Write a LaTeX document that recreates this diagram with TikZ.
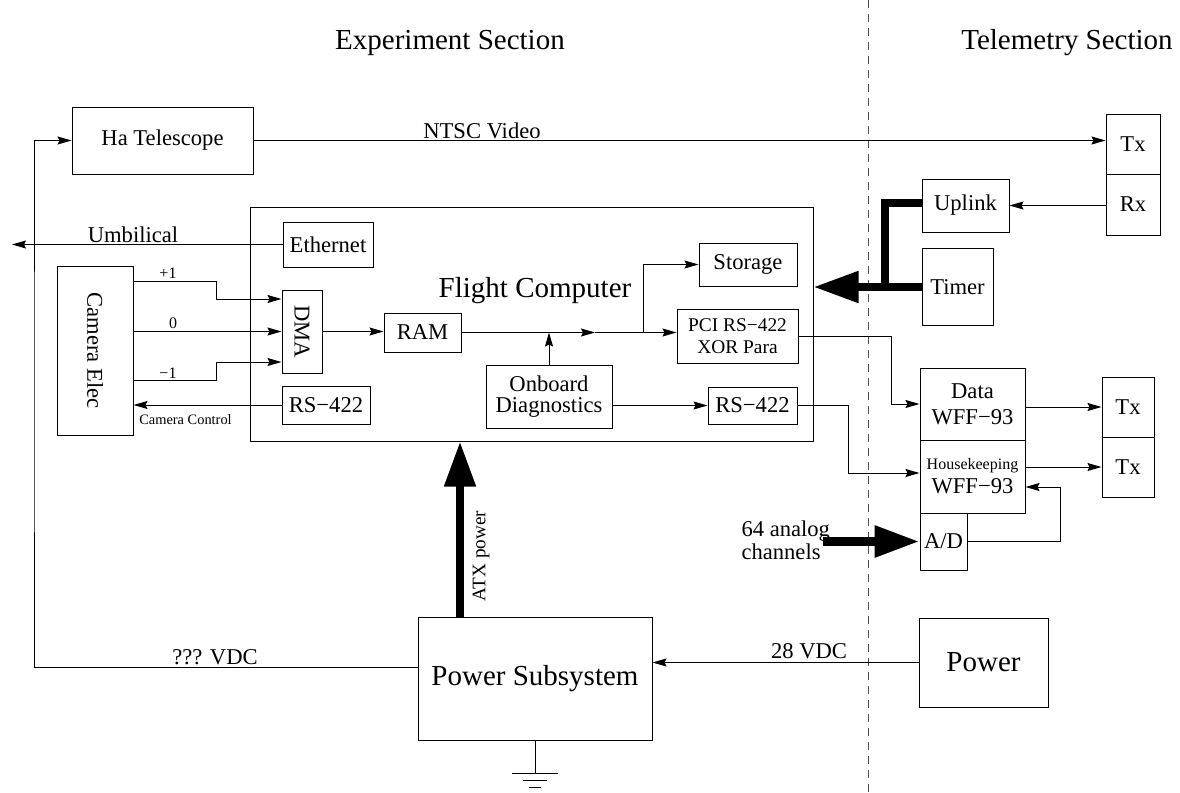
\documentclass[tikz,border=0pt]{standalone}
\usepackage{fontspec}
\setmainfont{Liberation Serif}
\usetikzlibrary{arrows.meta}

\tikzset{
  blk/.style={draw, inner sep=0pt, font=\fontsize{11.3}{12}\selectfont},
  lbl/.style={inner sep=0pt, font=\fontsize{11.3}{12}\selectfont},
  big/.style={inner sep=0pt, font=\fontsize{14.5}{16}\selectfont},
  sml/.style={inner sep=0pt, font=\fontsize{8}{9}\selectfont},
  arr/.style={-{Stealth[length=7pt,width=4pt,inset=1pt]}},
  fat/.style={line width=4pt},
  fatarr/.style={line width=4pt, -{Triangle[length=22.5pt,width=15pt]}},
}

\begin{document}
\begin{tikzpicture}[x=0.5pt, y=-0.5pt, line width=0.5pt]
  \useasboundingbox (0,0) rectangle (1180,793);

  \node[big] (exps) at (450,43) {Experiment Section};
  \node[big] (tels) at (1067,43) {Telemetry Section};
  \draw[dashed, dash pattern=on 4pt off 3pt, black!70] (868,0) -- (868,793);

  % experiment side
  \node[blk, minimum width=90.5pt, minimum height=33.5pt] (tel) at (162.5,140.5) {Ha Telescope};
  \node[blk, minimum width=281.5pt, minimum height=117pt] (fc) at (531.5,324) {};
  \node[big] (fcl) at (535,291) {Flight Computer};
  \node[blk, minimum width=45pt, minimum height=22.5pt] (eth) at (328,244.5) {Ethernet};
  \node[blk, rotate=-90, minimum width=84.5pt, minimum height=38pt] (cam) at (95,350.5) {Camera Elec};
  \node[blk, rotate=-90, minimum width=41.5pt, minimum height=20pt] (dma) at (302,331.5) {DMA};
  \node[blk, minimum width=38.5pt, minimum height=19.5pt] (ram) at (422.5,332.5) {RAM};
  \node[blk, minimum width=44pt, minimum height=19pt] (rsa) at (326,405) {RS−422};
  \node[blk, minimum width=49pt, minimum height=21.5pt] (stor) at (748,264.5) {Storage};
  \node[blk, align=center, font=\fontsize{9.7}{11}\selectfont, minimum width=60.5pt, minimum height=27pt] (pci) at (737.5,336) {PCI RS−422\\XOR Para};
  \node[blk, align=center, font=\fontsize{11.3}{10.5}\selectfont, minimum width=63pt, minimum height=31.5pt] (diag) at (549,396.5) {Onboard\\Diagnostics};
  \node[blk, minimum width=44.5pt, minimum height=18.5pt] (rsb) at (752.5,405.5) {RS−422};
  \node[blk, minimum width=117pt, minimum height=61.5pt, font=\fontsize{14.5}{16}\selectfont] (pss) at (535,678.5) {Power Subsystem};

  % telemetry side
  \node[blk, minimum width=27pt, minimum height=30pt] (txa) at (1133,144) {Tx};
  \node[blk, minimum width=27pt, minimum height=30.5pt] (rx) at (1133,204.5) {Rx};
  \node[blk, minimum width=43.5pt, minimum height=26.5pt] (upl) at (965.5,205.5) {Uplink};
  \node[blk, minimum width=35.5pt, minimum height=38.5pt] (tim) at (957.5,287) {Timer};
  \node[blk, align=center, font=\fontsize{11.3}{13}\selectfont, minimum width=52.5pt, minimum height=36pt] (dat) at (972.5,404) {Data\\WFF−93};
  \node[blk, align=center, font=\fontsize{11.3}{12}\selectfont, minimum width=52.5pt, minimum height=36.5pt] (hk) at (972.5,476.5) {{\fontsize{8}{9}\selectfont Housekeeping}\\WFF−93};
  \node[blk, minimum width=23.5pt, minimum height=28.5pt] (ad) at (943.5,541.5) {A/D};
  \node[blk, minimum width=26pt, minimum height=30pt] (txb) at (1128,407) {Tx};
  \node[blk, minimum width=26pt, minimum height=30pt] (txc) at (1128,467) {Tx};
  \node[blk, minimum width=64.5pt, minimum height=44.5pt, font=\fontsize{14.5}{16}\selectfont] (pwr) at (983.5,662.5) {Power};

  \coordinate (lft) at (34,400);
  \coordinate (umb) at (12,244.5);
  \coordinate (mid) at (595,332.5);
  \coordinate (br) at (643,332.5);
  \coordinate (jn) at (885,287);
  \coordinate (atx) at (460,0);
  \coordinate (an) at (823,541.5);

  % connectors
  \draw[arr] ([yshift=5.75pt]pss.west) -| (lft) |- (tel.west);
  \node[lbl] (vdc) at (215,657) {??? VDC};
  \draw[arr] (tel.east) -- (tel.east -| txa.west);
  \node[lbl] (ntsc) at (482,131) {NTSC Video};
  \draw[arr] (eth.west) -- (umb);
  \node[lbl] (umbl) at (133,235) {Umbilical};

  \draw[arr] ([yshift=34.75pt]cam.north) -- ++(83,0) |- ([yshift=16.25pt]dma.south);
  \draw[arr] (cam.north |- dma.south) -- (dma.south);
  \draw[arr] ([yshift=-14.75pt]cam.north) -- ++(83,0) |- ([yshift=-15.25pt]dma.south);
  \node[sml] (lp) at (168,273) {+1};
  \node[sml] (lz) at (173,323) {0};
  \node[sml] (lm) at (168,373) {−1};
  \draw[arr] (rsa.west) -- (rsa.west -| cam.north);
  \node[inner sep=0pt, font=\fontsize{7.2}{8}\selectfont] (ccl) at (185.5,420) {Camera Control};

  \draw[arr] (dma.north) -- (dma.north -| ram.west);
  \draw[arr] (ram.east) -- (mid);
  \draw[arr] (mid) -- (mid -| pci.west);
  \draw[arr] (br) |- (stor.west);
  \draw[arr] (diag.north) -- (diag.north |- ram.east);
  \draw[arr] (rsb.west -| diag.east) -- (rsb.west);

  \draw[arr] (pci.east) -- ++(93,0) |- (dat.west);
  \draw[arr] (rsb.east) -- ++(51,0) |- ([yshift=1.75pt]hk.west);
  \draw[arr] (txb.west -| dat.east) -- (txb.west);
  \draw[arr] (txc.west -| hk.east) -- (txc.west);
  \draw[arr] (ad.east) -- ++(93,0) |- ([yshift=-5.25pt]hk.east);
  \draw[arr] (rx.west |- upl.east) -- (upl.east);

  \draw[fat] ([yshift=1.5pt]upl.west) -| (jn);
  \draw[fatarr] (tim.west) -- (tim.west -| fc.east);
  \draw[fatarr, line width=4.5pt] (an) -- (ad.west);
  \node[lbl, anchor=west, align=left, font=\fontsize{11.3}{9.5}\selectfont] (alab) at (741,540) {64 analog\\channels};

  \draw[fatarr] (pss.north -| atx) -- (fc.south -| atx);
  \node[inner sep=0pt, rotate=90, font=\fontsize{9.6}{10}\selectfont] (atxl) at (481,556) {ATX power};
  \draw[arr] (pwr.west) -- (pwr.west -| pss.east);
  \node[lbl] (vdc28) at (809,651) {28 VDC};

  % ground
  \draw (pss.south) -- ++(0,33) coordinate (gnd);
  \draw ([xshift=-11.5pt]gnd) -- ([xshift=11.5pt]gnd);
  \draw ([xshift=-6pt,yshift=-3.5pt]gnd) -- ([xshift=6pt,yshift=-3.5pt]gnd);
  \draw ([xshift=-3pt,yshift=-7pt]gnd) -- ([xshift=3pt,yshift=-7pt]gnd);
\end{tikzpicture}
\end{document}
